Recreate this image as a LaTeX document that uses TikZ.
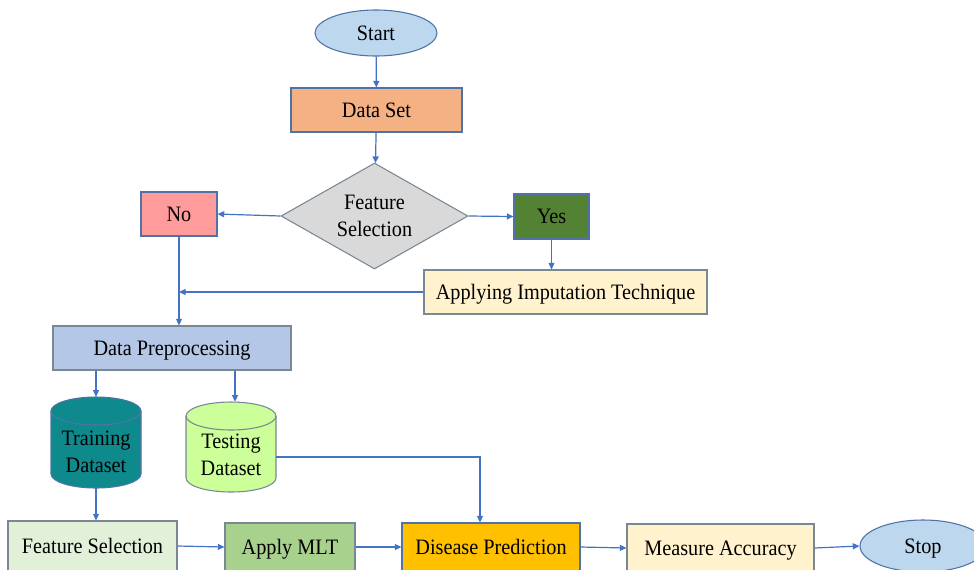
\documentclass[tikz,border=0pt]{standalone}
\usepackage{fontspec}
\setmainfont{Liberation Serif}[FakeStretch=0.92]
\usetikzlibrary{shapes.geometric,arrows.meta}
\definecolor{ablue}{HTML}{4472C4}
\definecolor{bord}{HTML}{4F73A8}
\definecolor{gbord}{HTML}{7A8794}
\definecolor{ovalf}{HTML}{BDD7EE}
\definecolor{dsf}{HTML}{F4B183}
\definecolor{diaf}{HTML}{D9D9D9}
\definecolor{nof}{HTML}{FF9B9B}
\definecolor{yesf}{HTML}{548235}
\definecolor{impf}{HTML}{FFF2CC}
\definecolor{dpf}{HTML}{B4C7E7}
\definecolor{trf}{HTML}{0F8A8C}
\definecolor{tsf}{HTML}{CCFF99}
\definecolor{fsf}{HTML}{E2F0D9}
\definecolor{mltf}{HTML}{A9D18E}
\definecolor{disf}{HTML}{FFC000}
\tikzset{
  lbl/.style={font=\fontsize{16.5}{20}\selectfont, text=black, inner sep=0pt, align=center},
  box/.style={lbl, rectangle, draw=bord, line width=0.8pt, text height=11pt, text depth=0pt},
  oval/.style={lbl, ellipse, draw=bord, line width=0.8pt, fill=ovalf, text height=11pt, text depth=0pt},
  conn/.style={draw=ablue, line width=0.9pt, -{Triangle[length=5pt,width=4.5pt]}},
  cyl/.style={lbl, rectangle, draw=none},
}
\begin{document}
\begin{tikzpicture}[x=0.75pt,y=-0.75pt]
\useasboundingbox (0,0) rectangle (974,569);
\clip (0,0) rectangle (974,569);
\fill[white] (0,0) rectangle (974,569);

% nodes
\node[oval, minimum width=91.5pt, minimum height=34.5pt] (start) at (376,33) {Start};
\node[box, fill=dsf, minimum width=128.25pt, minimum height=33pt] (ds) at (376.5,110) {Data Set};
\node[lbl, diamond, draw=gbord, line width=0.8pt, fill=diaf, aspect=1.76, minimum width=140.25pt, minimum height=79.5pt] (dia) at (374.5,216) {Feature\\Selection};
\node[box, fill=nof, minimum width=57pt, minimum height=33pt] (no) at (179,214) {No};
\node[box, fill=yesf, minimum width=56.25pt, minimum height=33.75pt] (yes) at (551.5,216.5) {Yes};
\node[box, draw=gbord, fill=impf, minimum width=212.25pt, minimum height=33pt] (imp) at (565.5,292) {Applying Imputation Technique};
\node[box, draw=gbord, fill=dpf, minimum width=178.5pt, minimum height=33pt] (dp) at (172,348) {Data Preprocessing};

% cylinders
\filldraw[draw=bord, line width=0.8pt, fill=trf]
  (51,411) -- (51,474) arc[start angle=180, end angle=0, x radius=45, y radius=14] -- (141,411)
  arc[start angle=0, end angle=-180, x radius=45, y radius=14] -- cycle;
\draw[draw=bord, line width=0.8pt] (51,411) arc[start angle=180, end angle=0, x radius=45, y radius=14];
\filldraw[draw=gbord, line width=0.8pt, fill=tsf]
  (186,416) -- (186,478) arc[start angle=180, end angle=0, x radius=45, y radius=14] -- (276,416)
  arc[start angle=0, end angle=-180, x radius=45, y radius=14] -- cycle;
\draw[draw=gbord, line width=0.8pt] (186,416) arc[start angle=180, end angle=0, x radius=45, y radius=14];
\node[cyl, minimum width=67.5pt, minimum height=68.25pt] (tr) at (96,442.5) {};
\node[lbl] at (96,451.5) {Training\\Dataset};
\node[cyl, minimum width=67.5pt, minimum height=67.5pt] (ts) at (231,447) {};
\node[lbl] at (231,455) {Testing\\Dataset};

\node[box, draw=gbord, fill=fsf, minimum width=126.75pt, minimum height=37.5pt] (fs) at (92.5,546) {Feature Selection};
\node[box, draw=gbord, fill=mltf, minimum width=97.5pt, minimum height=36pt] (mlt) at (290,547) {Apply MLT};
\node[box, fill=disf, minimum width=133.5pt, minimum height=36pt] (dis) at (491,547) {Disease Prediction};
\node[box, draw=gbord, fill=impf, minimum width=140.25pt, minimum height=36pt] (ma) at (720.5,548) {Measure Accuracy};
\node[oval, minimum width=94.5pt, minimum height=39pt] (stop) at (923,546) {Stop};

% connectors
\draw[conn] (start) -- (ds);
\draw[conn] (ds) -- (dia);
\draw[conn] (dia.west) -- (no.east);
\draw[conn] (dia.east) -- (yes.west);
\draw[conn] (yes.south) -- (yes.south |- imp.north);
\coordinate (join) at (no.south |- imp.west);
\draw[conn] (imp.west) -- (join);
\draw[conn] (no.south) -- (no.south |- dp.north);
\draw[conn] (tr.north |- dp.south) -- (tr.north);
\draw[conn] ([xshift=3pt]ts.north |- dp.south) -- ([xshift=3pt]ts.north);
\draw[conn] (tr.south) -- (tr.south |- fs.north);
\coordinate (tsout) at ([yshift=-7.5pt]ts.east);
\coordinate (disin) at ([xshift=-8.25pt]dis.north);
\draw[conn] (tsout) -| (disin);
\draw[conn] (fs.east) -- (mlt.west);
\draw[conn] (mlt.east) -- (dis.west);
\draw[conn] (dis.east) -- (ma.west);
\draw[conn] (ma.east) -- (stop.west);
\end{tikzpicture}
\end{document}
